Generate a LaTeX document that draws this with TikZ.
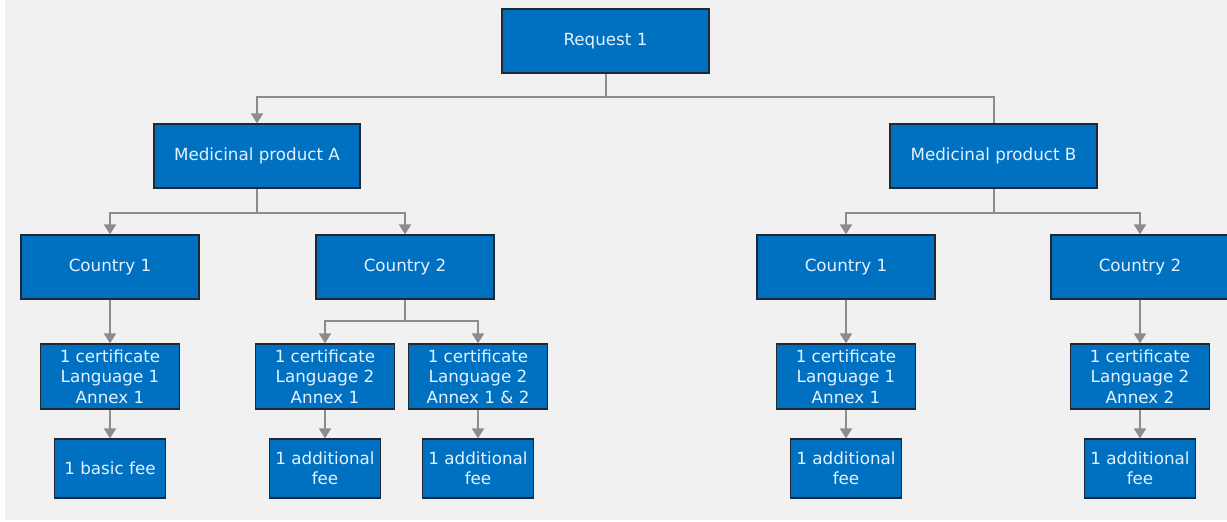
\documentclass[tikz,border=0pt]{standalone}
\usepackage{fontspec}
\setmainfont{DejaVu Sans}
\usetikzlibrary{arrows.meta}
\definecolor{boxblue}{RGB}{0,112,192}
\definecolor{boxedge}{RGB}{30,40,55}
\definecolor{txtc}{RGB}{228,242,255}
\definecolor{linegrey}{RGB}{140,140,140}
\definecolor{bg}{RGB}{241,241,241}
\tikzset{
  bx/.style={rectangle, fill=boxblue, draw=boxedge, line width=1.2bp, text=txtc,
    font=\fontsize{16.8}{20.5}\selectfont, align=center, inner sep=0pt},
  conn/.style={draw=linegrey, line width=2bp},
  arr/.style={conn, -{Triangle[width=12bp,length=10bp]}}
}
\begin{document}
\begin{tikzpicture}[x=1bp,y=-1bp]
\useasboundingbox (0,0) rectangle (1227,522);
\fill[white] (0,0) rectangle (1227,522);
\fill[bg] (5,0) rectangle (1227,520);
% level 0
\node[bx, minimum width=207bp, minimum height=64bp] (req) at (605.5,41) {Request 1};
% level 1
\node[bx, minimum width=206bp, minimum height=64bp] (ma) at (257,156) {Medicinal product A};
\node[bx, minimum width=207bp, minimum height=64bp] (mb) at (993.5,156) {Medicinal product B};
% level 2
\node[bx, minimum width=178bp, minimum height=64bp] (ca1) at (110,267) {Country 1};
\node[bx, minimum width=178bp, minimum height=64bp] (ca2) at (405,267) {Country 2};
\node[bx, minimum width=178bp, minimum height=64bp] (cb1) at (846,267) {Country 1};
\node[bx, minimum width=178bp, minimum height=64bp] (cb2) at (1140,267) {Country 2};
% level 3
\node[bx, minimum width=139bp, minimum height=65bp] (za1) at (110,376.5) {1 certificate\\Language 1\\Annex 1};
\node[bx, minimum width=139bp, minimum height=65bp] (za2) at (325,376.5) {1 certificate\\Language 2\\Annex 1};
\node[bx, minimum width=139bp, minimum height=65bp] (za3) at (478,376.5) {1 certificate\\Language 2\\Annex 1 \& 2};
\node[bx, minimum width=139bp, minimum height=65bp] (zb1) at (846,376.5) {1 certificate\\Language 1\\Annex 1};
\node[bx, minimum width=139bp, minimum height=65bp] (zb2) at (1140,376.5) {1 certificate\\Language 2\\Annex 2};
% level 4
\node[bx, minimum width=111bp, minimum height=59bp] (fa1) at (110,468.5) {1 basic fee};
\node[bx, minimum width=111bp, minimum height=59bp] (fa2) at (325,468.5) {1 additional\\fee};
\node[bx, minimum width=111bp, minimum height=59bp] (fa3) at (478,468.5) {1 additional\\fee};
\node[bx, minimum width=111bp, minimum height=59bp] (fb1) at (846,468.5) {1 additional\\fee};
\node[bx, minimum width=111bp, minimum height=59bp] (fb2) at (1140,468.5) {1 additional\\fee};
% connectors
\coordinate (j0) at ([yshift=-23bp]req.south);
\draw[arr] (req.south) -- (j0) -| (ma.north);
\draw[conn] (j0) -| (mb.north);
\coordinate (j1) at ([yshift=-24bp]ma.south);
\draw[arr] (ma.south) -- (j1) -| (ca1.north);
\draw[arr] (j1) -| (ca2.north);
\coordinate (j2) at ([yshift=-24bp]mb.south);
\draw[arr] (mb.south) -- (j2) -| (cb1.north);
\draw[arr] (j2) -| (cb2.north);
\coordinate (j3) at ([yshift=-21bp]ca2.south);
\draw[arr] (ca2.south) -- (j3) -| (za2.north);
\draw[arr] (j3) -| (za3.north);
\draw[arr] (ca1.south) -- (za1.north);
\draw[arr] (cb1.south) -- (zb1.north);
\draw[arr] (cb2.south) -- (zb2.north);
\draw[arr] (za1.south) -- (fa1.north);
\draw[arr] (za2.south) -- (fa2.north);
\draw[arr] (za3.south) -- (fa3.north);
\draw[arr] (zb1.south) -- (fb1.north);
\draw[arr] (zb2.south) -- (fb2.north);
\end{tikzpicture}
\end{document}
